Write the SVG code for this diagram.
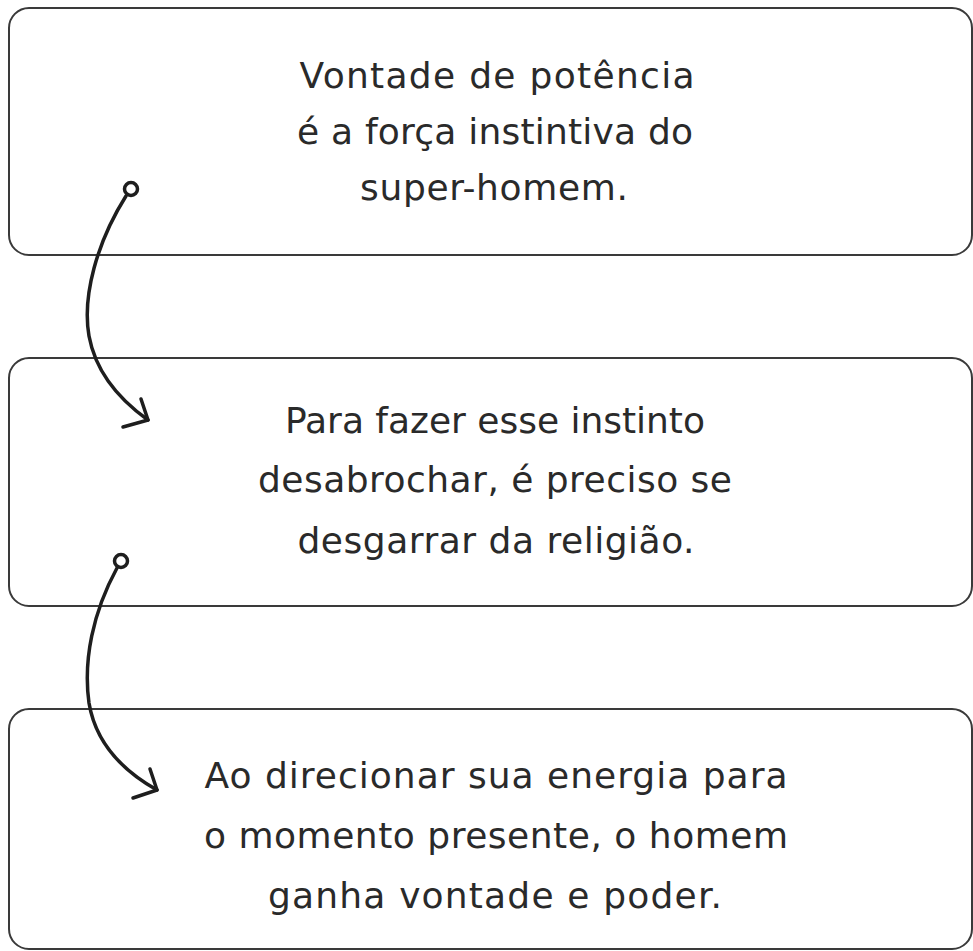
<svg xmlns="http://www.w3.org/2000/svg" width="973" height="951" viewBox="0 0 973 951">
<style>
.box{fill:#fff;stroke:#3a3a3a;stroke-width:2}
.t{font-family:"DejaVu Sans","Liberation Sans",sans-serif;font-size:36px;fill:#2a2a2a;text-anchor:middle}
.c{fill:none;stroke:#1e1e1e;stroke-width:3.5;stroke-linecap:round;stroke-linejoin:round}
.dot{fill:#fff;stroke:#1e1e1e;stroke-width:3.5}
</style>
<rect width="973" height="951" fill="#fff"/>
<g id="node1">
<rect class="box" x="9" y="8" width="963" height="247" rx="20"/>
<text class="t" x="497" y="88" textLength="395" lengthAdjust="spacing">Vontade de potência</text>
<text class="t" x="495" y="144" textLength="396" lengthAdjust="spacing">é a força instintiva do</text>
<text class="t" x="494" y="200" textLength="268" lengthAdjust="spacing">super-homem.</text>
</g>
<g id="node2">
<rect class="box" x="9" y="358" width="963" height="248" rx="20"/>
<text class="t" x="495" y="433" textLength="420" lengthAdjust="spacing">Para fazer esse instinto</text>
<text class="t" x="495" y="492" textLength="474" lengthAdjust="spacing">desabrochar, é preciso se</text>
<text class="t" x="496" y="553" textLength="397" lengthAdjust="spacing">desgarrar da religião.</text>
</g>
<g id="node3">
<rect class="box" x="9" y="709" width="963" height="240" rx="20"/>
<text class="t" x="496" y="788" textLength="583" lengthAdjust="spacing">Ao direcionar sua energia para</text>
<text class="t" x="496" y="848" textLength="584" lengthAdjust="spacing">o momento presente, o homem</text>
<text class="t" x="495" y="908" textLength="454" lengthAdjust="spacing">ganha vontade e poder.</text>
</g>
<g id="connectors">
<path class="c" d="M126,196 C97,242 82,296 89,336 C96,374 120,400 148,420"/>
<polyline class="c" points="141,399 148,420 123,427"/>
<circle class="dot" cx="131" cy="189" r="6.5"/>
<path class="c" d="M117,568 C93,612 83,660 89,703 C96,745 125,772 157,790"/>
<polyline class="c" points="150,769 157,790 133,798"/>
<circle class="dot" cx="121" cy="561" r="6.5"/>
</g>
</svg>
